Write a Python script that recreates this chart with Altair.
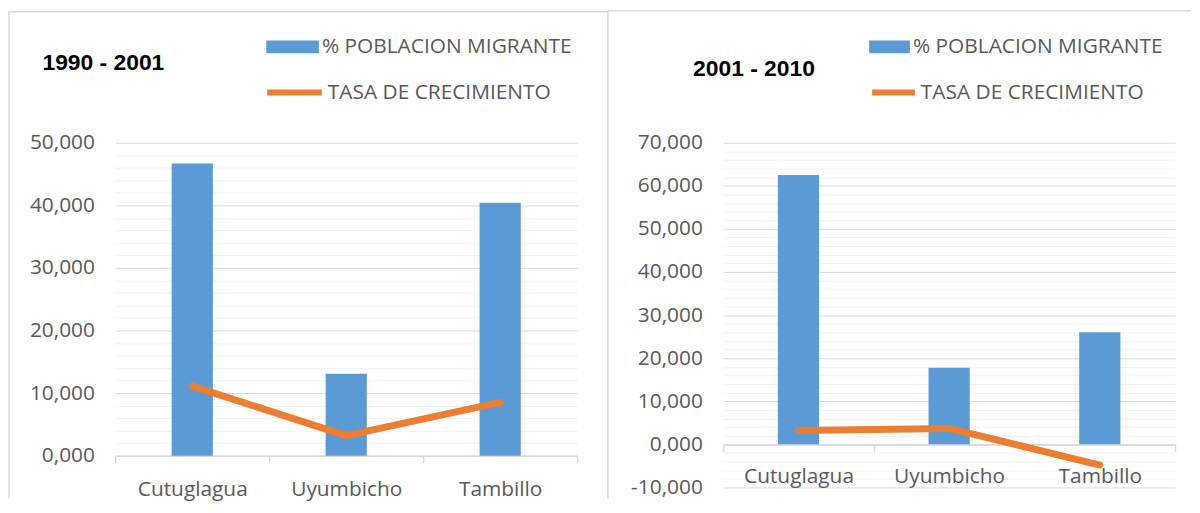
import altair as alt
import pandas as pd

categories = ["Cutuglagua", "Uyumbicho", "Tambillo"]
series_names = ["% POBLACION MIGRANTE", "TASA DE CRECIMIENTO"]
titles = ["1990 - 2001", "2001 - 2010"]

pct_1990_2001 = [46.7, 13.1, 40.4]
tasa_1990_2001 = [11.1, 3.2, 8.5]
pct_2001_2010 = [62.5, 17.8, 26.0]
tasa_2001_2010 = [3.2, 3.7, -4.8]

domain_left = [0, 50]
domain_right = [-10, 70]
major_left = [0, 10, 20, 30, 40, 50]
minor_left = [2, 4, 6, 8, 12, 14, 16, 18, 22, 24, 26, 28, 32, 34, 36, 38, 42, 44, 46, 48]
major_right = [-10, 0, 10, 20, 30, 40, 50, 60, 70]
minor_right = [-8, -6, -4, -2, 2, 4, 6, 8, 12, 14, 16, 18, 22, 24, 26, 28, 32, 34, 36, 38,
               42, 44, 46, 48, 52, 54, 56, 58, 62, 64, 66, 68]

BLUE = "#5B9BD5"
ORANGE = "#ED7D31"
TXT = "#595959"
GRID = "#d9d9d9"
MINOR = "#f0f0f0"
FRAME = "#d9d9d9"
FONT = "Open Sans"

LABEL_EXPR = "replace(replace(format(datum.value, '.3f'), '.', ','), '\u2212', '-')"


def panel(pct, tasa, title, domain, major, minor, W, H, x_label_pad, x_offset,
          title_xy, fill_leg, stroke_leg, frame_rules):
    df = pd.DataFrame({
        "cat": categories,
        "pct": pct,
        "tasa": tasa,
        "s1": [series_names[0]] * len(categories),
        "s2": [series_names[1]] * len(categories),
    })
    yscale = alt.Scale(domain=domain, nice=False, zero=False)
    xenc = alt.X(
        "cat:N", sort=categories,
        scale=alt.Scale(paddingInner=0, paddingOuter=0),
        axis=alt.Axis(title=None, tickBand="extent", domainColor=GRID, tickColor=GRID,
                      tickSize=7, domainWidth=1.5, tickWidth=1.5,
                      labelFont=FONT, labelFontSize=21, labelColor=TXT,
                      labelPadding=x_label_pad, offset=x_offset, grid=False, labelAngle=0),
    )
    fx, fy, fw, fh = fill_leg
    bars = alt.Chart(df).mark_bar(size=41.5).encode(
        x=xenc,
        y=alt.Y("pct:Q", scale=yscale,
                axis=alt.Axis(values=minor, grid=True, gridColor=MINOR, labels=False,
                              ticks=False, domain=False, orient="right", title=None)),
        fill=alt.Fill("s1:N", scale=alt.Scale(domain=[series_names[0]], range=[BLUE]),
                      legend=alt.Legend(title=None, orient="none", legendX=fx, legendY=fy,
                                        symbolType="M-1,-%.3fH1V%.3fH-1Z" % (fh / fw, fh / fw),
                                        symbolSize=fw * fw, symbolStrokeWidth=0,
                                        labelFont=FONT, labelFontSize=21, labelColor=TXT,
                                        labelOffset=3, labelLimit=0)),
    )
    sx, sy, sw = stroke_leg
    line = alt.Chart(df).mark_line(strokeWidth=7, strokeCap="round", strokeJoin="round").encode(
        x=xenc,
        y=alt.Y("tasa:Q", scale=yscale,
                axis=alt.Axis(values=major, grid=True, gridColor=GRID, labelExpr=LABEL_EXPR,
                              ticks=False, tickSize=0, domain=False, orient="left", title=None,
                              labelFont=FONT, labelFontSize=21, labelColor=TXT, labelPadding=21)),
        stroke=alt.Stroke("s2:N", scale=alt.Scale(domain=[series_names[1]], range=[ORANGE]),
                          legend=alt.Legend(title=None, orient="none", legendX=sx, legendY=sy,
                                            symbolType="stroke", symbolSize=sw * sw,
                                            symbolStrokeWidth=6,
                                            labelFont=FONT, labelFontSize=21, labelColor=TXT,
                                            labelOffset=3, labelLimit=0)),
    )
    tdf = pd.DataFrame({"t": [title]})
    ttl = alt.Chart(tdf).mark_text(font="Liberation Sans", fontWeight="bold", fontSize=23,
                                   color="black", align="center", baseline="middle").encode(
        x=alt.value(title_xy[0]), y=alt.value(title_xy[1]), text="t:N")
    one = pd.DataFrame({"k": [0]})
    frames = []
    for (x1, y1, x2, y2) in frame_rules:
        frames.append(alt.Chart(one).mark_rule(color=FRAME, strokeWidth=1.5).encode(
            x=alt.value(x1), y=alt.value(y1), x2=alt.value(x2), y2=alt.value(y2)))
    return alt.layer(*frames, bars, line, ttl).resolve_scale(y="shared").resolve_axis(
        y="independent").properties(width=W, height=H)


left = panel(pct_1990_2001, tasa_1990_2001, titles[0], domain_left, major_left, minor_left,
             W=465, H=315, x_label_pad=16, x_offset=0,
             title_xy=(-12, -80), fill_leg=(152, -123, 53, 13), stroke_leg=(150, -81, 55),
             frame_rules=[(-107, -132, -107, 358), (-107, -132, 496, -132), (496, -132, 496, 358)])

right = panel(pct_2001_2010, tasa_2001_2010, titles[1], domain_right, major_right, minor_right,
              W=455, H=347, x_label_pad=14.5, x_offset=-347 / 8,
              title_xy=(31, -74), fill_leg=(147, -117, 41, 13), stroke_leg=(147, -75, 43),
              frame_rules=[(-116, -133, 471, -133)])

chart = alt.hconcat(left, right, spacing=147, bounds="flush").resolve_scale(
    fill="independent", stroke="independent", x="independent", y="independent"
).resolve_legend(fill="independent", stroke="independent").properties(
    padding=0, background="white"
).configure_view(stroke=None)

chart.save("out.html", embed_options={"renderer": "svg", "actions": False})
